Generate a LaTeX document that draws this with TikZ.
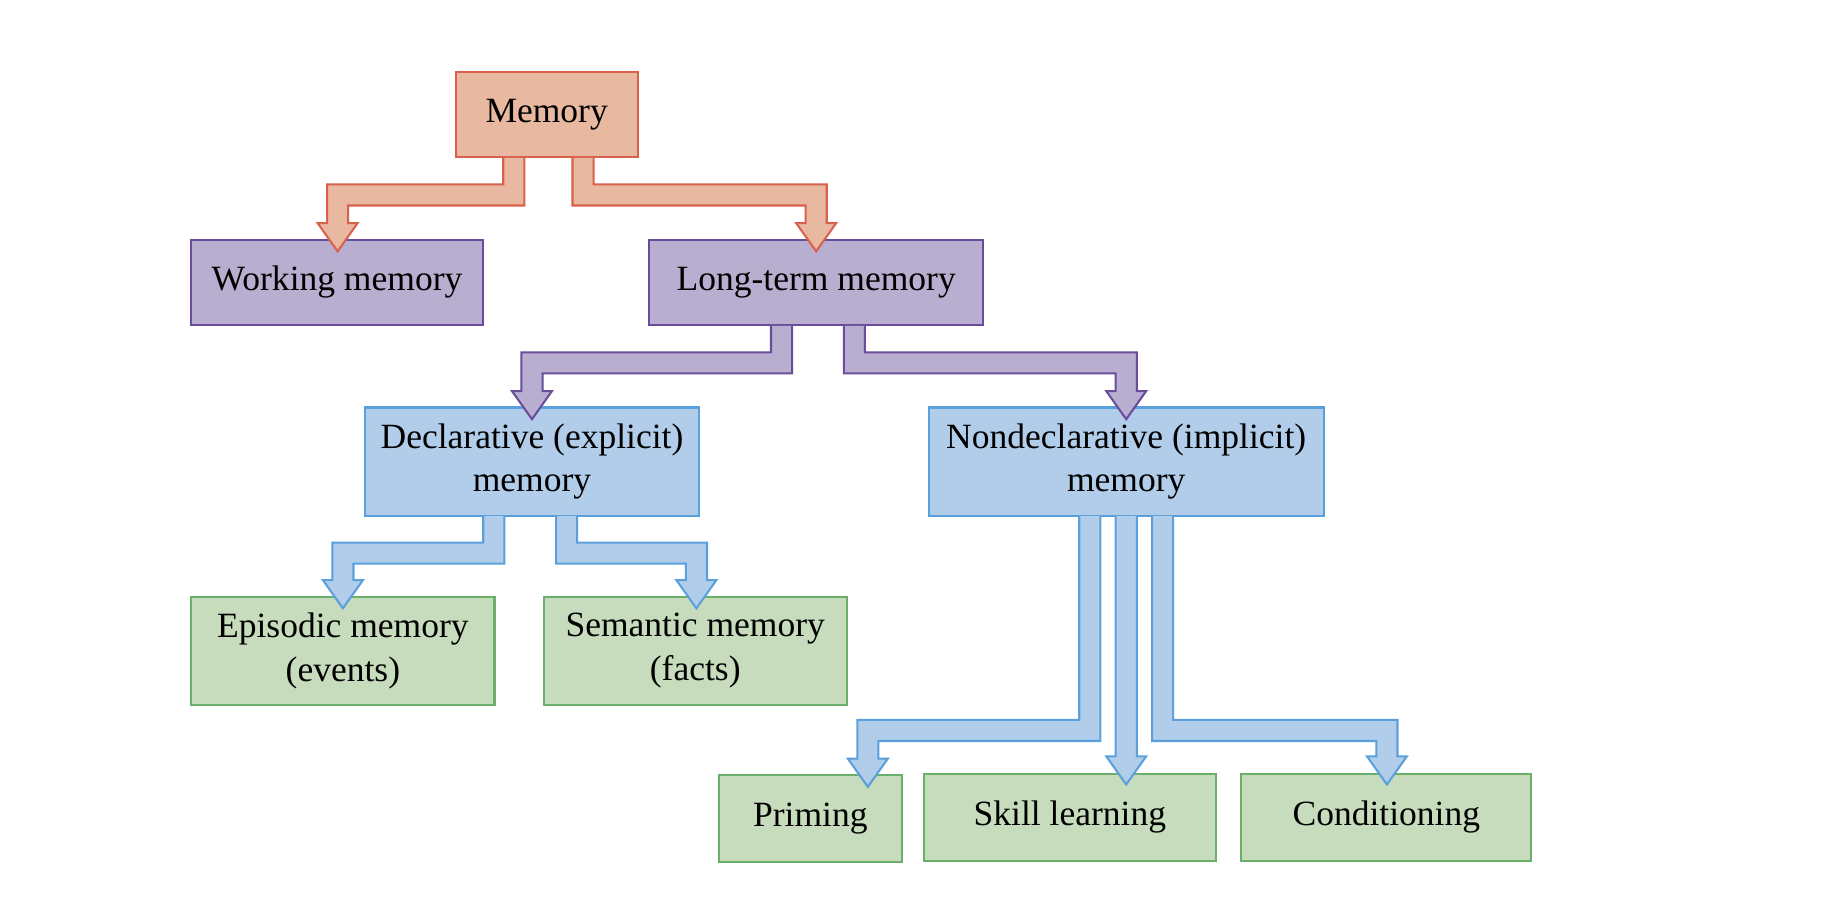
\documentclass[tikz,border=0pt]{standalone}
\usepackage{fontspec}
\setmainfont{Liberation Serif}
\definecolor{redfill}{HTML}{E8B9A0}
\definecolor{reddraw}{HTML}{D9604C}
\definecolor{purplefill}{HTML}{B8AED0}
\definecolor{purpledraw}{HTML}{6A4D9A}
\definecolor{bluefill}{HTML}{B1CDEA}
\definecolor{bluedraw}{HTML}{5AA0DC}
\definecolor{greenfill}{HTML}{C6DCBC}
\definecolor{greendraw}{HTML}{6BB06A}
% block arrow: style, x1, y1, ybend, x2, tip, side
\newcommand{\blockarrow}[7]{%
  \filldraw[#1] ({#2-#7*9},#3) -- ({#2-#7*9},{#4+9}) -- ({#5-#7*9},{#4+9}) -- ({#5-#7*9},{#6-24})
    -- ({#5-#7*17},{#6-24}) -- (#5,#6) -- ({#5+#7*17},{#6-24}) -- ({#5+#7*9},{#6-24})
    -- ({#5+#7*9},{#4-9}) -- ({#2+#7*9},{#4-9}) -- ({#2+#7*9},#3);}
\begin{document}
\begin{tikzpicture}[
		x=0.01cm, y=-0.01cm,
		box/.style={draw, line width=0.5pt, inner sep=0pt, align=center, font=\fontsize{8.6}{10.6}\selectfont},
		redbox/.style={box, fill=redfill, draw=reddraw},
		purplebox/.style={box, fill=purplefill, draw=purpledraw},
		bluebox/.style={box, fill=bluefill, draw=bluedraw},
		greenbox/.style={box, fill=greenfill, draw=greendraw},
		redarrow/.style={fill=redfill, draw=reddraw, line width=0.5pt},
		purplearrow/.style={fill=purplefill, draw=purpledraw, line width=0.5pt},
		bluearrow/.style={fill=bluefill, draw=bluedraw, line width=0.5pt}
		]
		\useasboundingbox (0,0) rectangle (1560,782);
		% Boxes
		\node[redbox, minimum width=1.55cm, minimum height=0.73cm] (memory) at (465.5,97.5) {Memory};
		\node[purplebox, minimum width=2.48cm, minimum height=0.73cm] (working) at (287,240.5) {Working memory};
		\node[purplebox, minimum width=2.84cm, minimum height=0.73cm] (longterm) at (695,240.5) {Long-term memory};
		\node[bluebox, minimum width=2.84cm, minimum height=0.92cm] (declarative) at (453,393) {Declarative (explicit)\\memory};
		\node[bluebox, minimum width=3.36cm, minimum height=0.92cm] (nondeclarative) at (959,393) {Nondeclarative (implicit)\\memory};
		\node[greenbox, minimum width=2.58cm, minimum height=0.92cm] (episodic) at (292,554) {Episodic memory\\(events)};
		\node[greenbox, minimum width=2.58cm, minimum height=0.92cm] (semantic) at (592,554) {Semantic memory\\(facts)};
		\node[greenbox, minimum width=1.56cm, minimum height=0.74cm] (priming) at (690,697) {Priming};
		\node[greenbox, minimum width=2.48cm, minimum height=0.74cm] (skill) at (911,696) {Skill learning};
		\node[greenbox, minimum width=2.47cm, minimum height=0.74cm] (conditioning) at (1180.5,696) {Conditioning};

		% Arrows
		\blockarrow{redarrow}{437.5}{134.5}{166}{287.5}{214}{-1}
		\blockarrow{redarrow}{496.5}{134.5}{166}{695}{214}{1}
		\blockarrow{purplearrow}{665.5}{277.5}{309}{453}{357}{-1}
		\blockarrow{purplearrow}{727.5}{277.5}{309}{959}{357}{1}
		\blockarrow{bluearrow}{420.5}{439.5}{471}{292}{518}{-1}
		\blockarrow{bluearrow}{482.5}{439.5}{471}{593}{518}{1}
		\blockarrow{bluearrow}{928}{439.5}{622}{739}{670}{-1}
		\blockarrow{bluearrow}{990}{439.5}{622}{1181}{668}{1}
		\blockarrow{bluearrow}{959}{439.5}{600}{959}{668}{1}
	\end{tikzpicture}
\end{document}
